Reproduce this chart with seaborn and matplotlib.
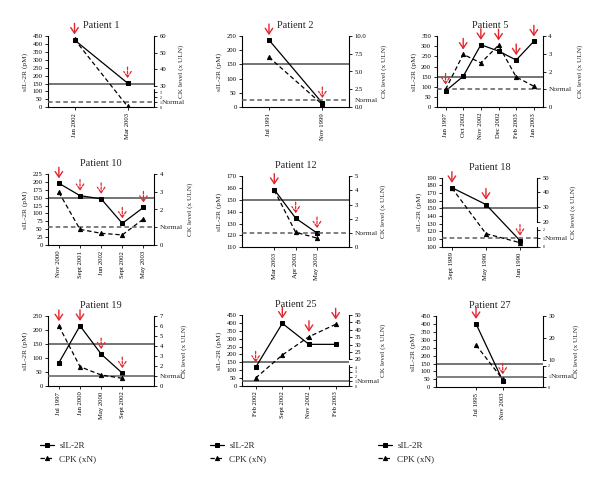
import numpy as np
import matplotlib
matplotlib.use("Agg")
import matplotlib.pyplot as plt
import seaborn as sns

sns.set_theme(style="ticks")
plt.rcParams["font.family"] = ["Liberation Serif", "DejaVu Serif"]

# ---------------- data ----------------
sil_cutoff = 150
ck_normal = 1

p1_dates = ["Jan 2002", "Mar 2003"]
p1_sil = [425, 153]
p1_ck = [58, 0.2]
p1_arrow_big = [1, 0]

p2_dates = ["Jul 1991", "Nov 1999"]
p2_sil = [235, 15]
p2_ck = [7.0, 0.4]
p2_arrow_big = [1, 0]

p5_dates = ["Jan 1997", "Oct 2002", "Nov 2002", "Dec 2002", "Feb 2003", "Jan 2003"]
p5_sil = [80, 152, 307, 276, 232, 324]
p5_ck = [1.0, 2.97, 2.49, 3.48, 1.7, 1.18]
p5_arrow_big = [0, 1, 1, 1, 1, 1]

p10_dates = ["Nov 2000", "Sept 2001", "Jun 2002", "Sept 2002", "May 2003"]
p10_sil = [195, 156, 146, 69, 119]
p10_ck = [2.96, 0.89, 0.67, 0.58, 1.47]
p10_arrow_big = [1, 0, 0, 0, 0]

p12_dates = ["Mar 2003", "Apr 2003", "May 2003"]
p12_sil = [158.5, 134.5, 122]
p12_ck = [4.0, 1.05, 0.65]
p12_arrow_big = [1, 0, 0]

p18_dates = ["Sept 1989", "May 1990", "Jun 1990"]
p18_sil = [177, 155, 108]
p18_ck = [43, 1.55, 0.48]
p18_arrow_big = [1, 1, 0]

p19_dates = ["Jul 1997", "Jan 2000", "May 2000", "Sept 2002"]
p19_sil = [83, 215, 114, 46]
p19_ck = [6.0, 1.93, 1.1, 0.77]
p19_arrow_big = [1, 1, 0, 0]

p25_dates = ["Feb 2002", "Sept 2002", "Nov 2002", "Feb 2003"]
p25_sil = [118, 397, 264, 264]
p25_ck = [1.7, 22.9, 35.3, 43.7]
p25_arrow_big = [0, 1, 1, 1]

p27_dates = ["Jul 1995", "Nov 2003"]
p27_sil = [401, 42]
p27_ck = [16.8, 0.75]
p27_arrow_big = [1, 0]

titles = ["Patient 1", "Patient 2", "Patient 5", "Patient 10", "Patient 12",
          "Patient 18", "Patient 19", "Patient 25", "Patient 27"]
series_labels = ["sIL-2R", "CPK (xN)"]

# ---------------- layout / axis settings ----------------
W, H = 600, 486
RED = "#e3262d"
GRAY = "#5c5c5c"

panels = [
    dict(d=p1_dates, s=p1_sil, c=p1_ck, a=p1_arrow_big, rect=(48, 154, 36, 107.3),
         ylim=(0, 450), yt=np.arange(0, 451, 50), xlim=(-0.5, 1.5), rlab=24,
         right=("broken", 3.6, 0.25, 30, 60, 0.30, [0, 1, 2, 3], [30, 40, 50, 60]), nls="--"),
    dict(d=p2_dates, s=p2_sil, c=p2_ck, a=p2_arrow_big, rect=(242.3, 349, 35.7, 107.3),
         ylim=(0, 250), yt=np.arange(0, 251, 50), xlim=(-0.5, 1.5), rlab=32,
         right=("lin", (0, 10), [0, 2.5, 5, 7.5, 10], "{:.1f}"), nls="--"),
    dict(d=p5_dates, s=p5_sil, c=p5_ck, a=p5_arrow_big, rect=(436.7, 542.7, 36, 107.3),
         ylim=(0, 350), yt=np.arange(0, 351, 50), xlim=(-0.5, 5.5), rlab=35,
         right=("lin", (0, 4), [0, 1, 2, 3, 4], "{:.0f}"), nls="--"),
    dict(d=p10_dates, s=p10_sil, c=p10_ck, a=p10_arrow_big, rect=(48.3, 154, 173.7, 245.3),
         ylim=(0, 225), yt=np.arange(0, 226, 25), xlim=(-0.5, 4.5), rlab=33,
         right=("lin", (0, 4), [0, 1, 2, 3, 4], "{:.0f}"), nls="--"),
    dict(d=p12_dates, s=p12_sil, c=p12_ck, a=p12_arrow_big, rect=(242.3, 349, 176, 247.3),
         ylim=(110, 170), yt=np.arange(110, 171, 10), xlim=(-1.5, 3.5), rlab=31,
         right=("lin", (0, 5), [0, 1, 2, 3, 4, 5], "{:.0f}"), nls="--"),
    dict(d=p18_dates, s=p18_sil, c=p18_ck, a=p18_arrow_big, rect=(441.7, 537, 177.7, 246.7),
         ylim=(100, 190), yt=np.arange(100, 191, 10), xlim=(-0.3, 2.5), rlab=33,
         right=("broken", 2.3, 0.28, 20, 50, 0.36, [0, 1, 2], [20, 30, 40, 50]), nls="--"),
    dict(d=p19_dates, s=p19_sil, c=p19_ck, a=p19_arrow_big, rect=(48.3, 154, 316, 386),
         ylim=(0, 250), yt=np.arange(0, 251, 50), xlim=(-0.5, 4.5), rlab=27,
         right=("lin", (0, 7), list(range(8)), "{:.0f}"), nls="-"),
    dict(d=p25_dates, s=p25_sil, c=p25_ck, a=p25_arrow_big, rect=(242.3, 349, 315, 386),
         ylim=(0, 450), yt=np.arange(0, 451, 50), xlim=(-0.5, 3.5), rlab=31,
         right=("broken", 4.5, 0.296, 20, 50, 0.376, [0, 1, 2, 3, 4], [20, 25, 30, 35, 40, 45, 50]), nls="-"),
    dict(d=p27_dates, s=p27_sil, c=p27_ck, a=p27_arrow_big, rect=(436, 542.7, 316, 387.3),
         ylim=(0, 450), yt=np.arange(0, 451, 50), xlim=(-1.5, 2.5), rlab=31,
         right=("broken", 2, 0.30, 10, 30, 0.383, [0, 1, 2], [10, 20, 30]), nls="-"),
]


def make_broken(lo_top, f_lo, up_bot, up_top, f_up):
    def fwd(v):
        v = np.asarray(v, dtype=float)
        return np.where(v <= lo_top, v / lo_top * f_lo,
                        np.where(v >= up_bot, f_up + (v - up_bot) / (up_top - up_bot) * (1 - f_up),
                                 f_lo + (v - lo_top) / (up_bot - lo_top) * (f_up - f_lo)))

    def inv(f):
        f = np.asarray(f, dtype=float)
        return np.where(f <= f_lo, f / f_lo * lo_top,
                        np.where(f >= f_up, up_bot + (f - f_up) / (1 - f_up) * (up_top - up_bot),
                                 lo_top + (f - f_lo) / (f_up - f_lo) * (up_bot - lo_top)))
    return fwd, inv


fig = plt.figure(figsize=(W / 100, H / 100), dpi=100)
fig.patch.set_facecolor("white")

TICK_FS = 4.8
legend_handles = {}

for k, p in enumerate(panels):
    l, r, t, b = p["rect"]
    ax = fig.add_axes([l / W, 1 - b / H, (r - l) / W, (b - t) / H])
    ax2 = ax.twinx()
    ax.set_facecolor("none")
    x = np.arange(len(p["d"]))

    # left axis
    ax.axhline(sil_cutoff, color=GRAY, lw=1.2, zorder=1)
    sns.lineplot(x=x, y=p["s"], ax=ax, color="black", lw=0.9, marker="s", markersize=2.8,
                 markeredgecolor="black", estimator=None, sort=False, zorder=3)
    line_s = ax.get_lines()[-1]
    ax.set_xlim(*p["xlim"])
    ax.set_ylim(*p["ylim"])
    ax.set_yticks(p["yt"])
    ax.set_yticklabels([f"{v:g}" for v in p["yt"]], fontsize=TICK_FS)
    ax.set_xticks(x)
    ax.set_xticklabels(p["d"], rotation=90, fontsize=TICK_FS)
    ax.set_ylabel("sIL-2R (pM)", fontsize=5.4, labelpad=3)
    ax.set_xlabel("")
    ax.set_title(titles[k], fontsize=7.4, pad=5.5)
    for sp in ["top", "right"]:
        ax.spines[sp].set_visible(False)
    for sp in ["left", "bottom"]:
        ax.spines[sp].set_linewidth(0.8)
        ax.spines[sp].set_color("black")
    ax.tick_params(axis="both", direction="out", length=2.5, width=0.6, pad=1.5, colors="black")

    # right axis
    rs = p["right"]
    for sp in ["top", "left", "bottom"]:
        ax2.spines[sp].set_visible(False)
    ax2.spines["right"].set_linewidth(0.8)
    ax2.spines["right"].set_color("black")
    normal_off = 4
    if rs[0] == "lin":
        ax2.set_ylim(*rs[1])
        ax2.set_yticks(rs[2])
        # the "Normal" label takes the place of the tick label at the normal level
        ax2.set_yticklabels(["" if v == ck_normal else rs[3].format(v) for v in rs[2]],
                            fontsize=TICK_FS)
    else:
        _, lo_top, f_lo, up_bot, up_top, f_up, lo_t, up_t = rs
        fwd, inv = make_broken(lo_top, f_lo, up_bot, up_top, f_up)
        ax2.set_yscale("function", functions=(fwd, inv))
        ax2.set_ylim(0, up_top)
        ticks = list(lo_t) + list(up_t)
        ax2.set_yticks(ticks)
        ax2.set_yticklabels([f"{v:g}" for v in ticks], fontsize=TICK_FS)
        for lab, v in zip(ax2.get_yticklabels(), ticks):
            if v <= lo_top:
                lab.set_fontsize(2.8)
        ax2.spines["right"].set_bounds(up_bot, up_top)
        ax2.plot([1, 1], [0, lo_top], transform=ax2.get_yaxis_transform(),
                 color="black", lw=0.8, clip_on=False)
        normal_off = 5.5
    ax2.tick_params(axis="y", direction="out", length=2.5, width=0.6, pad=1.5, colors="black")
    ax2.axhline(ck_normal, color=GRAY, lw=1.1, ls=p["nls"],
                dashes=(3, 2) if p["nls"] == "--" else (None, None), zorder=1)
    sns.lineplot(x=x, y=p["c"], ax=ax2, color="black", lw=0.9, marker="^", markersize=3.0,
                 markeredgecolor="black", estimator=None, sort=False, zorder=3)
    line_c = ax2.get_lines()[-1]
    line_c.set_dashes((3.5, 2.2))
    ax2.set_ylabel("CK level (x ULN)", fontsize=5.2)
    ax2.yaxis.set_label_coords(1 + p["rlab"] / (r - l), 0.5)
    ax2.annotate("Normal", xy=(1, ck_normal), xycoords=("axes fraction", "data"),
                 xytext=(normal_off, 0), textcoords="offset points", va="center", ha="left",
                 fontsize=5.4, annotation_clip=False)

    # arrows above each measurement
    for i, big in enumerate(p["a"]):
        ys = ax.transData.transform((i, p["s"][i]))[1]
        yc = ax2.transData.transform((i, p["c"][i]))[1]
        frac = ax.transAxes.inverted().transform((0, max(ys, yc)))[1]
        ax.annotate("", xy=(i, frac), xycoords=("data", "axes fraction"),
                    xytext=(0, 11.5), textcoords="offset points",
                    arrowprops=dict(arrowstyle="->,head_length=0.45,head_width=0.3",
                                    color=RED, lw=1.0 if big else 0.9,
                                    ls="-" if big else (0, (2.0, 1.2)),
                                    shrinkA=0, shrinkB=3.5, mutation_scale=9),
                    annotation_clip=False, zorder=5)

    line_s.set_label(series_labels[0])
    line_c.set_label(series_labels[1])
    legend_handles[k] = [line_s, line_c]

# legends under each column
for k, xpos in zip([6, 7, 8], [40, 210, 378]):
    fig.legend(handles=legend_handles[k], labels=series_labels, loc="upper left",
               bbox_to_anchor=(xpos / W, 1 - 441.5 / H), frameon=False, fontsize=6.6,
               handlelength=1.5, handletextpad=0.6, labelspacing=0.5,
               borderpad=0, borderaxespad=0)

fig.savefig("out.png", dpi=100, facecolor="white")
